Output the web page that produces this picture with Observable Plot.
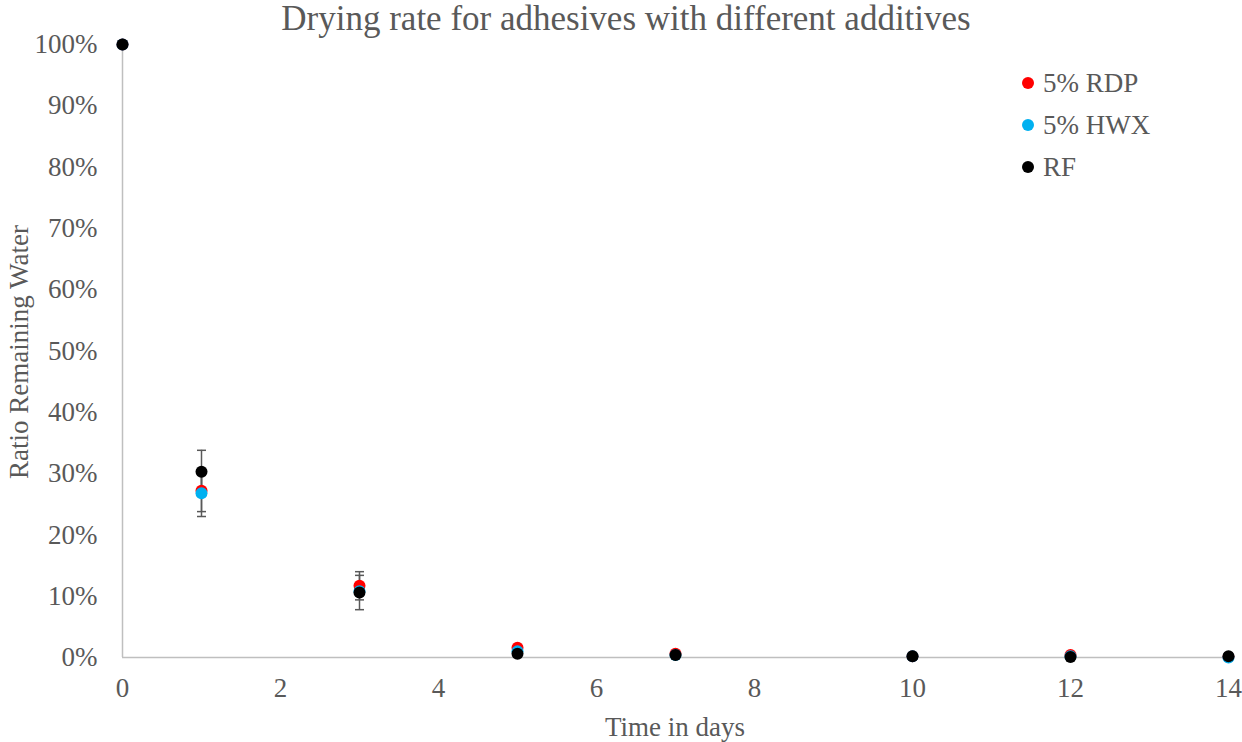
<!DOCTYPE html>
<html>
<head>
<meta charset="utf-8">
<script src="https://cdn.jsdelivr.net/npm/d3@7"></script>
<script src="https://cdn.jsdelivr.net/npm/@observablehq/plot@0.6"></script>
<style>
  html, body { margin: 0; padding: 0; background: #fff; }
  #wrap { position: relative; width: 1242px; height: 742px; font-family: "Liberation Serif", "Times New Roman", serif; color: #595959; }
  #chart svg, #chart svg text { font-family: "Liberation Serif", serif !important; }
  #title { position: absolute; left: 0; width: 1252px; top: 0px; text-align: center; font-size: 35px; line-height: 38px; }
  #xlabel { position: absolute; left: 122px; width: 1106px; top: 712px; text-align: center; font-size: 27px; }
  #ylabel { position: absolute; left: 19px; top: 352px; transform: translate(-50%, -50%) rotate(-90deg); white-space: nowrap; font-size: 27px; }
  #legend { position: absolute; left: 1022px; top: 62px; font-size: 27px; }
  .row { display: flex; align-items: center; height: 42px; }
  .sw { width: 12px; height: 12px; border-radius: 50%; margin-right: 9px; }
</style>
</head>
<body>
<div id="wrap">
  <div id="chart"></div>
  <div id="title">Drying rate for adhesives with different additives</div>
  <div id="xlabel">Time in days</div>
  <div id="ylabel">Ratio Remaining Water</div>
  <div id="legend"></div>
</div>
<script>
const days = [0, 1, 3, 5, 7, 10, 12, 14];
const seriesNames = ["5% RDP", "5% HWX", "RF"];
const seriesColors = ["#ff0000", "#00b0f0", "#000000"];
const rdp = [100, 27.2, 11.7, 1.6, 0.6, 0.2, 0.4, 0.1];
const hwx = [100, 26.8, 10.8, 1.0, 0.4, 0.2, 0.2, 0.0];
const rf  = [100, 30.3, 10.6, 0.6, 0.4, 0.2, 0.1, 0.2];
const rdpErr = [0, 3.4, 2.3, 0, 0, 0, 0, 0];
const hwxErr = [0, 3.8, 0, 0, 0, 0, 0, 0];
const rfErr  = [0, 3.5, 2.8, 0, 0, 0, 0, 0];
const xTicks = [0, 2, 4, 6, 8, 10, 12, 14];
const yTicks = [0, 10, 20, 30, 40, 50, 60, 70, 80, 90, 100];

const values = [rdp, hwx, rf];
const errs = [rdpErr, hwxErr, rfErr];
const data = [];
seriesNames.forEach((s, i) => {
  days.forEach((d, j) => {
    data.push({series: s, order: i, day: d, value: values[i][j], err: errs[i][j]});
  });
});
const errData = data.filter(d => d.err > 0);

const capSymbol = {
  draw(ctx) { ctx.moveTo(-4.5, 0); ctx.lineTo(4.5, 0); }
};

const serif = "Liberation Serif";
const plot = Plot.plot({
  width: 1242,
  height: 742,
  marginTop: 44,
  marginRight: 14,
  marginBottom: 85,
  marginLeft: 122,
  style: {fontFamily: serif, fontSize: "27px", color: "#595959", background: "#fff"},
  x: {domain: [0, 14]},
  y: {domain: [0, 100]},
  color: {domain: seriesNames, range: seriesColors},
  marks: [
    Plot.axisX({ticks: xTicks, tickSize: 0, tickPadding: 20, label: null, fontFamily: serif, fontSize: 27, tickFormat: d => String(d)}),
    Plot.axisY({ticks: yTicks, tickSize: 0, tickPadding: 25, label: null, fontFamily: serif, fontSize: 27, tickFormat: d => d + "%"}),
    Plot.ruleX([0], {y1: 0, y2: 100, stroke: "#bfbfbf", strokeWidth: 1.5}),
    Plot.ruleY([0], {stroke: "#bfbfbf", strokeWidth: 1.5}),
    Plot.ruleX(errData, {x: "day", y1: d => d.value - d.err, y2: d => d.value + d.err, stroke: "#595959", strokeWidth: 1.5}),
    Plot.dot(errData, {x: "day", y: d => d.value - d.err, symbol: capSymbol, stroke: "#595959", strokeWidth: 1.5, fill: "none", r: 4}),
    Plot.dot(errData, {x: "day", y: d => d.value + d.err, symbol: capSymbol, stroke: "#595959", strokeWidth: 1.5, fill: "none", r: 4}),
    Plot.dot(data, {x: "day", y: "value", fill: "series", r: 6})
  ]
});
document.getElementById("chart").appendChild(plot);

const legend = document.getElementById("legend");
seriesNames.forEach((s, i) => {
  const row = document.createElement("div");
  row.className = "row";
  const sw = document.createElement("div");
  sw.className = "sw";
  sw.style.background = seriesColors[i];
  const t = document.createElement("span");
  t.textContent = s;
  row.appendChild(sw);
  row.appendChild(t);
  legend.appendChild(row);
});
</script>
</body>
</html>
